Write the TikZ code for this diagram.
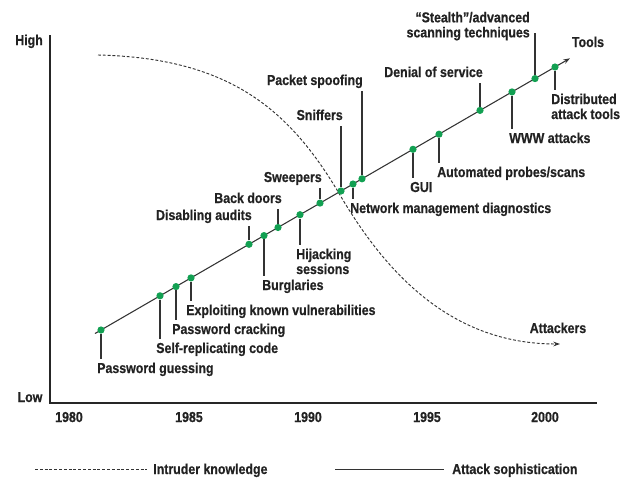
\documentclass[tikz,border=0pt]{standalone}
\usepackage{fontspec}
\setmainfont{Liberation Sans}[FakeStretch=0.86, BoldFont={Liberation Sans Bold}, BoldFeatures={FakeStretch=0.86, FakeBold=0.6}]
\usetikzlibrary{arrows.meta,calc}
\definecolor{txt}{HTML}{222222}
\definecolor{ln}{HTML}{333333}
\definecolor{dotg}{HTML}{12A052}
\begin{document}
\begin{tikzpicture}[x=0.75pt,y=-0.75pt,
  lbl/.style={font=\fontsize{10.8}{12.5}\selectfont\bfseries, text=txt, inner xsep=0pt, inner ysep=2.5pt, text height=8pt, text depth=2pt},
  mlbl/.style={font=\fontsize{10.8}{11.25}\selectfont\bfseries, text=txt, inner xsep=0pt, inner ysep=2.5pt},
  dot/.style={circle, fill=dotg, inner sep=0pt, minimum size=5.4pt},
  leader/.style={draw=ln, line width=0.9pt},
  axis/.style={draw=black!85, line width=1.1pt},
  trend/.style={draw=ln, line width=0.8pt, -{Stealth[length=5pt,width=3.5pt]}},
  knowledge/.style={draw=ln, line width=0.7pt, dash pattern=on 2.2pt off 1.4pt},
  legendline/.style={draw=ln, line width=0.7pt}]
\useasboundingbox (0,0) rectangle (622,479);

% axes
\coordinate (ytop) at (50,35);
\coordinate (orig) at (50,403);
\coordinate (xend) at (597,403);
\draw[axis] (ytop) -- (orig) -- (xend);
\node[lbl, anchor=base] (high) at (29,45) {High};
\node[lbl, anchor=base] (low) at (30,402) {Low};
\node[lbl, anchor=base] (y80) at (69,422) {1980};
\node[lbl, anchor=base] (y85) at (189,422) {1985};
\node[lbl, anchor=base] (y90) at (308,422) {1990};
\node[lbl, anchor=base] (y95) at (427,422) {1995};
\node[lbl, anchor=base] (y00) at (545,422) {2000};

% intruder knowledge curve
\coordinate (k0) at (98,55);
\coordinate (k1) at (340,195);
\coordinate (k2) at (560,344);
\draw[knowledge, -{Stealth[length=5pt,width=3.5pt]}] (k0) .. controls (230,58) and (290,110) .. (k1)
  .. controls (385,271.5) and (450,344) .. (k2);
\node[lbl, anchor=base] (att) at (558,333) {Attackers};

% attack sophistication line
\coordinate (s0) at (95,333.5);
\coordinate (s1) at (570,58.3);
\draw[trend] (s0) -- (s1);
\node[lbl, anchor=base] (tools) at (588,47) {Tools};

% dots
\node[dot] (d1) at (101,330.0) {};
\node[dot] (d2) at (160,295.8) {};
\node[dot] (d3) at (176,286.6) {};
\node[dot] (d4) at (191,277.9) {};
\node[dot] (d5) at (249,244.3) {};
\node[dot] (d6) at (264,235.6) {};
\node[dot] (d7) at (278,227.5) {};
\node[dot] (d8) at (300,214.7) {};
\node[dot] (d9) at (320,203.1) {};
\node[dot] (d10) at (341,191.0) {};
\node[dot] (d11) at (353,184.0) {};
\node[dot] (d12) at (362,178.8) {};
\node[dot] (d13) at (413,149.3) {};
\node[dot] (d14) at (439,134.2) {};
\node[dot] (d15) at (480,110.4) {};
\node[dot] (d16) at (512,91.9) {};
\node[dot] (d17) at (535,78.6) {};
\node[dot] (d18) at (555,67.0) {};

% labels
\node[lbl, anchor=base west] (l1) at (97,373) {Password guessing};
\node[lbl, anchor=base west] (l2) at (156,353) {Self-replicating code};
\node[lbl, anchor=base west] (l3) at (172,334) {Password cracking};
\node[lbl, anchor=base west] (l4) at (186,315) {Exploiting known vulnerabilities};
\node[lbl, anchor=base east] (l5) at (252,220) {Disabling audits};
\node[lbl, anchor=base west] (l6) at (262,290) {Burglaries};
\node[lbl, anchor=base east] (l7) at (282,203) {Back doors};
\node[mlbl, anchor=north west, align=left] (l8) at (296,245) {Hijacking\\sessions};
\node[lbl, anchor=base east] (l9) at (322,182) {Sweepers};
\node[lbl, anchor=base east] (l10) at (343,120) {Sniffers};
\node[lbl, anchor=base west] (l11) at (350,213) {Network management diagnostics};
\node[lbl, anchor=base east] (l12) at (363,85) {Packet spoofing};
\node[lbl, anchor=base west] (l13) at (410,192) {GUI};
\node[lbl, anchor=base west] (l14) at (437,177) {Automated probes/scans};
\node[lbl, anchor=base east] (l15) at (483,77) {Denial of service};
\node[lbl, anchor=base west] (l16) at (509,143) {WWW attacks};
\node[mlbl, anchor=south east, align=right] (l17) at (530,44) {“Stealth”/advanced\\scanning techniques};
\node[mlbl, anchor=north west, align=left] (l18) at (551,90) {Distributed\\attack tools};
\coordinate (l17end) at (535,33);

% leaders
\draw[leader] (d1) -- (d1 |- l1.north);
\draw[leader] (d2) -- (d2 |- l2.north);
\draw[leader] (d3) -- (d3 |- l3.north);
\draw[leader] (d4) -- (d4 |- l4.north);
\draw[leader] (d5) -- (d5 |- l5.south);
\draw[leader] (d6) -- (d6 |- l6.north);
\draw[leader] (d7) -- (d7 |- l7.south);
\draw[leader] (d8) -- (d8 |- l8.north);
\draw[leader] (d9) -- (d9 |- l9.south);
\draw[leader] (d10) -- (d10 |- l10.south);
\draw[leader] (d11) -- (d11 |- l11.north);
\draw[leader] (d12) -- (d12 |- l12.south);
\draw[leader] (d13) -- (d13 |- l13.north);
\draw[leader] (d14) -- (d14 |- l14.north);
\draw[leader] (d15) -- (d15 |- l15.south);
\draw[leader] (d16) -- (d16 |- l16.north);
\draw[leader] (d17) -- (l17end);
\draw[leader] (d18) -- (d18 |- l18.north);

% legend
\coordinate (lga) at (35,469);
\coordinate (lgb) at (147,469);
\coordinate (lgc) at (335,469);
\coordinate (lgd) at (444,469);
\draw[knowledge] (lga) -- (lgb);
\node[lbl, anchor=base west] (ik) at (153,474) {Intruder knowledge};
\draw[legendline] (lgc) -- (lgd);
\node[lbl, anchor=base west] (as) at (452,474) {Attack sophistication};
\end{tikzpicture}
\end{document}
